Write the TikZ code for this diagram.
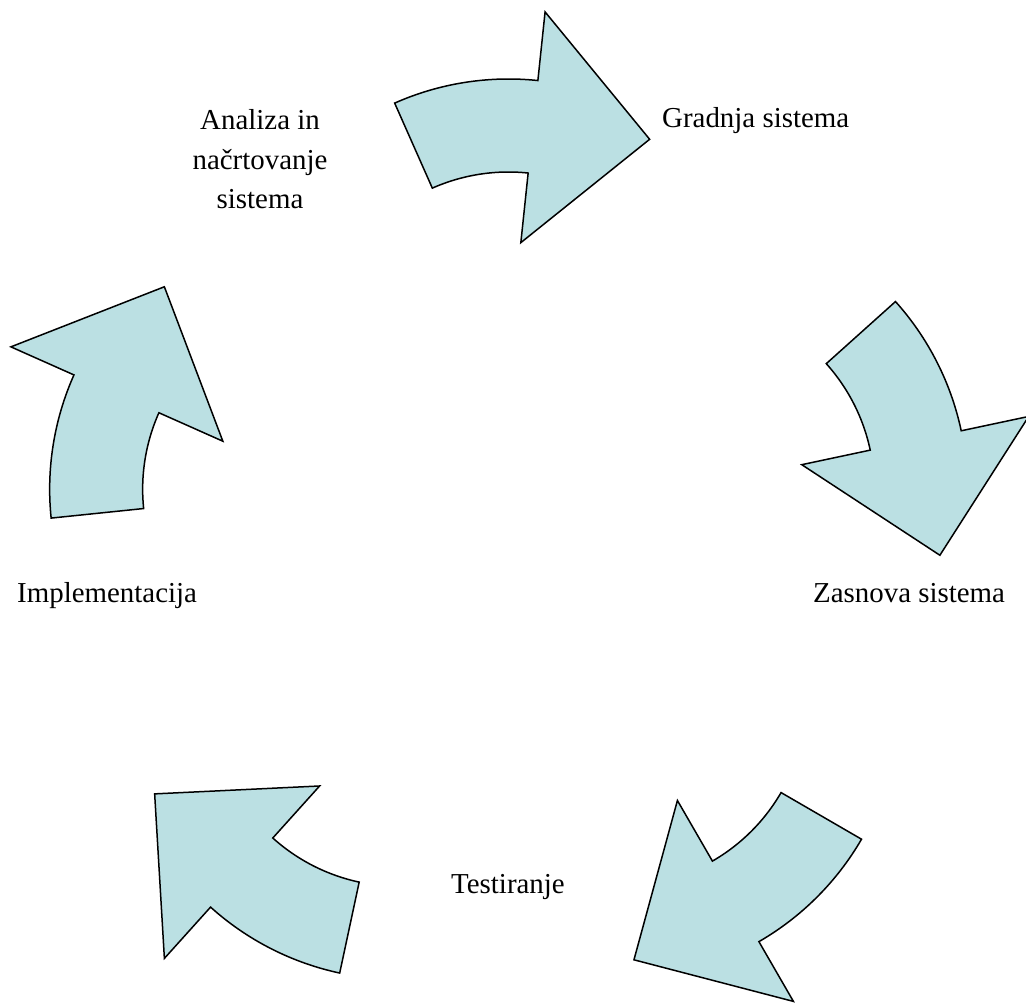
\documentclass[tikz,border=0pt]{standalone}
\usepackage{fontspec}
\setmainfont{Liberation Serif}
\usetikzlibrary{calc}
\definecolor{arrowfill}{RGB}{187,224,227}
\tikzset{
  cyclearrow/.style={fill=arrowfill, draw=black, line width=1.5pt, line join=miter},
  stagetext/.style={font=\fontsize{28.9}{39.5}\selectfont, inner sep=0pt, anchor=base west}
}
\begin{document}
\begin{tikzpicture}[x=1pt,y=-1pt]
\useasboundingbox (0,0) rectangle (1026,1003);
\coordinate (O) at (508.5,547);
\foreach \k/\nm in {0/aa,1/ab,2/ac,3/ad,4/ae}{
  \pgfmathsetmacro{\ph}{-90+72*\k}
  \coordinate (\nm c) at ($(O)+(\ph:187)$);
  \draw[cyclearrow] ($(\nm c)+(\ph-23.9:281)$)
    arc[start angle=\ph-23.9, end angle=\ph+6, radius=281]
    -- ($(\nm c)+(\ph+6:350)$)
    -- ($(\nm c)+(\ph+32.6:262)$)
    -- ($(\nm c)+(\ph+6:118)$)
    -- ($(\nm c)+(\ph+6:188)$)
    arc[start angle=\ph+6, end angle=\ph-23.9, radius=188]
    -- cycle;
}
\node[stagetext, anchor=north, align=center] (analiza) at (260,109.5) {Analiza in\\načrtovanje\\sistema};
\node[stagetext] (gradnja) at (662,128) {Gradnja sistema};
\node[stagetext] (zasnova) at (813,602) {Zasnova sistema};
\node[stagetext] (impl) at (17,602) {Implementacija};
\node[stagetext] (test) at (451,893) {Testiranje};
\end{tikzpicture}
\end{document}
